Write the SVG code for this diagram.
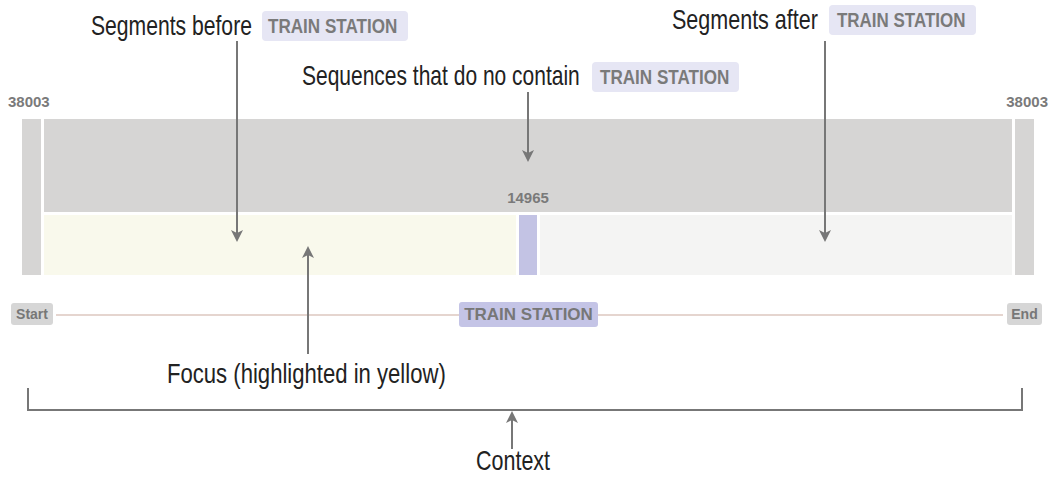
<svg xmlns="http://www.w3.org/2000/svg" width="1062" height="479" viewBox="0 0 1062 479">
<style>
.lbl{font-family:"Liberation Sans",Arial,sans-serif;font-size:27px;fill:#222}
.bt{font-family:"Liberation Sans",Arial,sans-serif;font-size:21px;font-weight:bold;fill:#7a7a7a}
.num{font-family:"Liberation Sans",Arial,sans-serif;font-size:15px;font-weight:bold;fill:#7a7a7a}
.badge{fill:#e6e6f4}
.conn{stroke:#777;stroke-width:2;fill:none}
.band{fill:#d6d5d4}
</style>
<defs>
<marker id="ah" markerWidth="12" markerHeight="14" refX="10" refY="6" orient="auto" markerUnits="userSpaceOnUse" viewBox="0 0 12 12">
<path d="M0,0 L12,6 L0,12 L3,6 Z" fill="#777"/>
</marker>
</defs>
<rect width="1062" height="479" fill="#fff"/>
<g id="chart">
<rect class="band" x="22" y="119" width="19" height="156"/>
<rect class="band" x="1015" y="119" width="19" height="156"/>
<rect class="band" x="44" y="119" width="968" height="93"/>
<rect x="44" y="215" width="472" height="60" fill="#f9f9ec"/>
<rect x="519" y="215" width="18" height="60" fill="#c3c3e4"/>
<rect x="540" y="215" width="472" height="60" fill="#f4f4f3"/>
<text class="num" x="8" y="107">38003</text>
<text class="num" x="1048" y="107" text-anchor="end">38003</text>
<text class="num" x="528" y="203" text-anchor="middle">14965</text>
</g>
<g id="timeline">
<line x1="56" y1="315" x2="1003" y2="315" stroke="#e5d5cf" stroke-width="2"/>
<rect x="11" y="303" width="42" height="22" rx="3" fill="#d6d6d6"/>
<text x="32" y="319" text-anchor="middle" font-family="Liberation Sans,Arial,sans-serif" font-weight="bold" font-size="14" fill="#777">Start</text>
<rect x="1007" y="303" width="35" height="22" rx="3" fill="#d6d6d6"/>
<text x="1024.5" y="319" text-anchor="middle" font-family="Liberation Sans,Arial,sans-serif" font-weight="bold" font-size="14" fill="#777">End</text>
<rect x="459" y="302" width="139" height="25" rx="3" fill="#c4c4e6"/>
<text x="528.5" y="320" text-anchor="middle" font-family="Liberation Sans,Arial,sans-serif" font-weight="bold" font-size="17" fill="#777">TRAIN STATION</text>
</g>
<g id="label-before">
<text class="lbl" transform="translate(91,35) scale(0.783,1)">Segments before</text>
<rect class="badge" x="262" y="11" width="146" height="30" rx="4"/>
<text class="bt" transform="translate(268,33) scale(0.814,1)">TRAIN STATION</text>
</g>
<g id="label-sequences">
<text class="lbl" transform="translate(302,85) scale(0.778,1)">Sequences that do no contain</text>
<rect class="badge" x="592" y="62" width="147" height="30" rx="4"/>
<text class="bt" transform="translate(600,84) scale(0.814,1)">TRAIN STATION</text>
</g>
<g id="label-after">
<text class="lbl" transform="translate(672,29) scale(0.797,1)">Segments after</text>
<rect class="badge" x="829" y="5" width="147" height="30" rx="4"/>
<text class="bt" transform="translate(837,27) scale(0.808,1)">TRAIN STATION</text>
</g>
<g id="label-focus">
<text class="lbl" transform="translate(167,383) scale(0.819,1)">Focus (highlighted in yellow)</text>
</g>
<g id="label-context">
<text class="lbl" transform="translate(476,470) scale(0.796,1)">Context</text>
</g>
<g id="connectors">
<line class="conn" x1="237" y1="41" x2="237" y2="240" marker-end="url(#ah)"/>
<line class="conn" x1="825" y1="41" x2="825" y2="240" marker-end="url(#ah)"/>
<line class="conn" x1="528" y1="92" x2="528" y2="160" marker-end="url(#ah)"/>
<line class="conn" x1="308" y1="354" x2="308" y2="248" marker-end="url(#ah)"/>
<line class="conn" x1="512" y1="449" x2="512" y2="413" marker-end="url(#ah)"/>
<polyline class="conn" points="28,388 28,410 1022,410 1022,388"/>
</g>
</svg>
